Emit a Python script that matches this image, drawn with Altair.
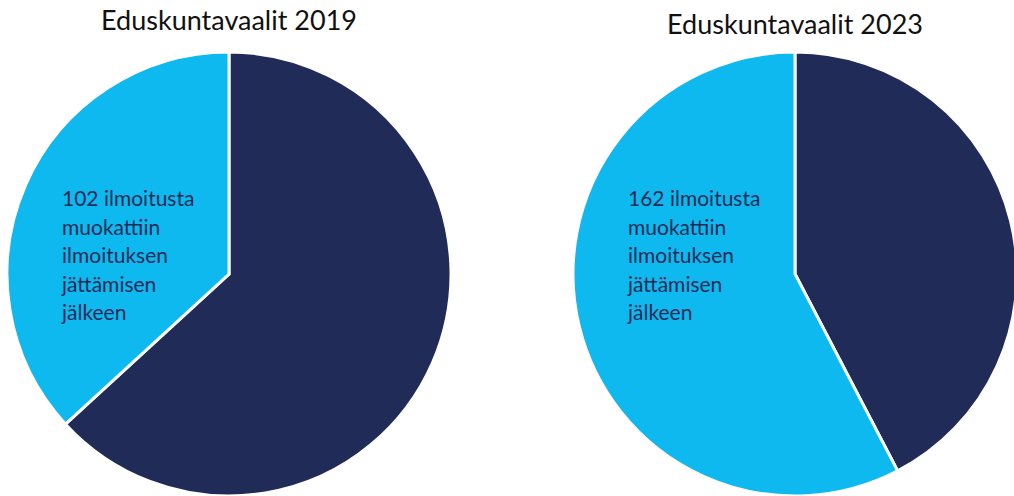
import altair as alt
import pandas as pd

years = ["2019", "2023"]
titles = ["Eduskuntavaalit 2019", "Eduskuntavaalit 2023"]
segments = ["muut", "muokatut"]
values_2019 = [175, 102]
values_2023 = [119, 162]
label_lines_2019 = ["102 ilmoitusta", "muokattiin", "ilmoituksen", "jättämisen", "jälkeen"]
label_lines_2023 = ["162 ilmoitusta", "muokattiin", "ilmoituksen", "jättämisen", "jälkeen"]

DARK = "#212B57"
LIGHT = "#0DB9EE"
FONT = "Lato"

centers = {"2019": (229, 274), "2023": (795, 274)}
title_y = {"2019": 30, "2023": 34}
label_x = {"2019": 62, "2023": 628}

layers = []
for year, title, vals, lines in [
    ("2019", titles[0], values_2019, label_lines_2019),
    ("2023", titles[1], values_2023, label_lines_2023),
]:
    cx, cy = centers[year]
    df = pd.DataFrame({"segment": segments, "value": vals, "order": [0, 1]})
    arc = alt.Chart(df).mark_arc(outerRadius=222, stroke="white", strokeWidth=3).encode(
        theta=alt.Theta("value:Q", stack=True),
        order=alt.Order("order:Q"),
        color=alt.Color("segment:N", scale=alt.Scale(domain=segments, range=[DARK, LIGHT]), legend=None),
        x=alt.value(cx),
        y=alt.value(cy),
    )
    tdf = pd.DataFrame({"t": [title]})
    ttl = alt.Chart(tdf).mark_text(
        font=FONT, fontSize=27, fontWeight=400, color="#111111", align="center", baseline="alphabetic"
    ).encode(text="t:N", x=alt.value(cx), y=alt.value(title_y[year]))
    ldf = pd.DataFrame({"t": [lines]})
    lbl = alt.Chart(ldf).mark_text(
        font=FONT, fontSize=21, fontWeight=400, color=DARK, align="left", baseline="alphabetic", lineHeight=28.5
    ).encode(text="t", x=alt.value(label_x[year]), y=alt.value(206))
    layers += [arc, ttl, lbl]

chart = alt.layer(*layers).resolve_scale(color="independent", theta="independent").properties(
    width=1014, height=496, padding=0, autosize="none"
).configure_view(stroke=None)

chart.save("out.html", embed_options={"renderer": "svg", "actions": False})
